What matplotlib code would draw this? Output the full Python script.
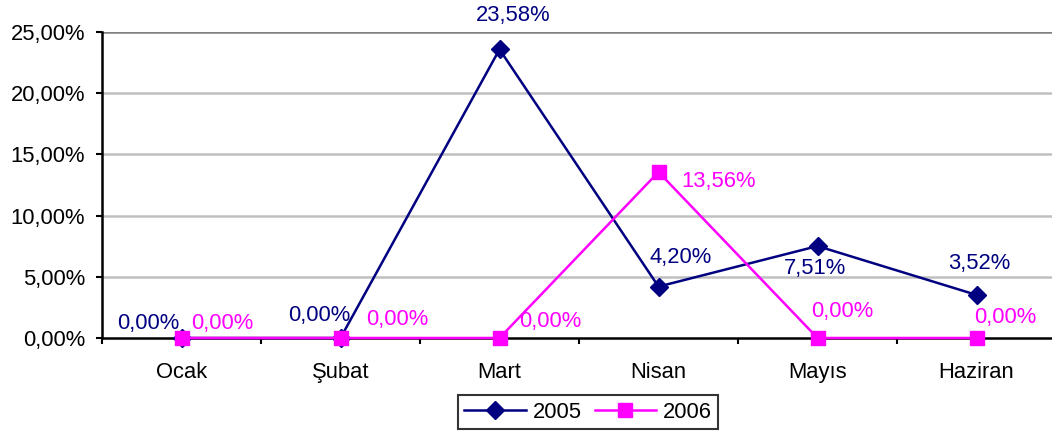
import matplotlib
matplotlib.use("Agg")
import matplotlib.pyplot as plt
from matplotlib.ticker import FixedLocator

plt.rcParams['font.family'] = ['Liberation Sans', 'DejaVu Sans']

months = ["Ocak", "Şubat", "Mart", "Nisan", "Mayıs", "Haziran"]
s2005 = [0.00, 0.00, 23.58, 4.20, 7.51, 3.52]
s2006 = [0.00, 0.00, 0.00, 13.56, 0.00, 0.00]
yticks = [0, 5, 10, 15, 20, 25]

def fmt(v):
    return f"{v:.2f}".replace(".", ",") + "%"

FS = 15.8
W, H = 1052, 432
fig = plt.figure(figsize=(W/100, H/100), dpi=100)
ax = fig.add_axes([102/W, 1-338/H, (1056-102)/W, (338-32)/H])

navy = "#000080"
mag = "#FF00FF"
x = list(range(len(months)))
ax.plot(x, s2005, color=navy, lw=1.8, marker="D", ms=9, mfc=navy, mec=navy, label="2005", zorder=4, clip_on=False)
ax.plot(x, s2006, color=mag, lw=1.8, marker="s", ms=10.5, mfc=mag, mec=mag, label="2006", zorder=5, clip_on=False)

ax.set_xlim(-0.5, 5.5)
ax.set_ylim(0, 25)
ax.set_yticks(yticks)
ax.set_yticklabels([fmt(v) for v in yticks], fontsize=FS)
ax.xaxis.set_major_locator(FixedLocator([i + 0.5 for i in range(-1, 6)]))
ax.set_xticklabels([])
ax.xaxis.set_minor_locator(FixedLocator(x))
ax.set_xticklabels(months, minor=True, fontsize=FS)
ax.tick_params(axis="x", which="minor", length=0, pad=17)
ax.tick_params(axis="x", which="major", length=4, width=1.5, direction="out", color="black")
ax.tick_params(axis="y", length=4, width=1.5, direction="out", pad=8)

for v in yticks[1:]:
    ax.axhline(v, color="#808080" if v == 25 else "#c0c0c0", lw=1.8, zorder=1)

for s in ["top", "right"]:
    ax.spines[s].set_visible(False)
for s in ["left", "bottom"]:
    ax.spines[s].set_linewidth(1.8)
    ax.spines[s].set_color("black")

off2005 = [(-33, 15), (-21, 22), (14, 34), (22, 29), (-3, -22), (3, 31)]
off2006 = [(41, 15), (57, 18), (51, 17), (60, -9), (25, 26), (29, 20)]
for i in x:
    ax.annotate(fmt(s2005[i]), (i, s2005[i]), xytext=off2005[i], textcoords="offset pixels",
                ha="center", va="center", color=navy, fontsize=FS, annotation_clip=False)
    ax.annotate(fmt(s2006[i]), (i, s2006[i]), xytext=off2006[i], textcoords="offset pixels",
                ha="center", va="center", color=mag, fontsize=FS, annotation_clip=False)

leg = fig.legend(loc="center", bbox_to_anchor=(588/W, 1-412/H), ncol=2, fontsize=FS,
                 frameon=True, fancybox=False, edgecolor="black", handlelength=2.8,
                 columnspacing=0.6, handletextpad=0.3, borderpad=0.3)
leg.get_frame().set_linewidth(1.5)

fig.savefig("out.png", dpi=100)
